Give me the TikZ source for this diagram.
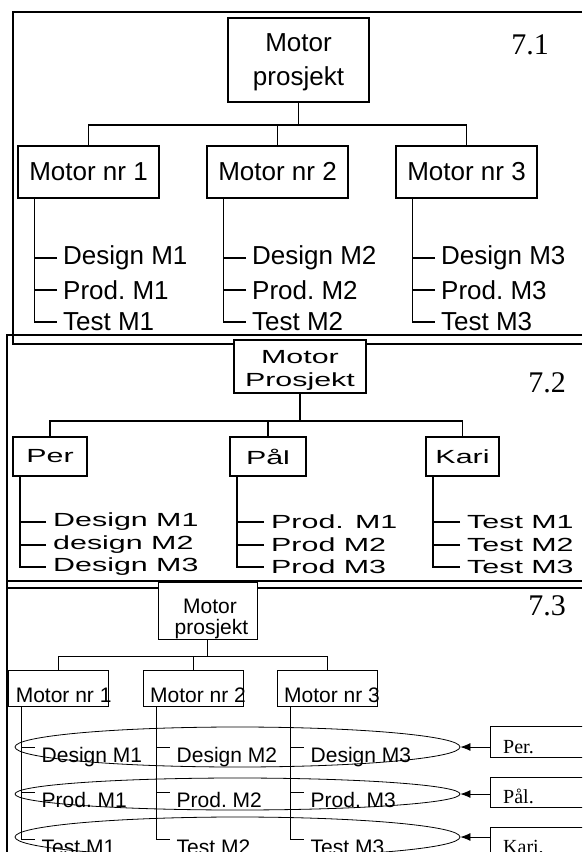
\documentclass[tikz,border=0pt]{standalone}
\usepackage{fontspec}
\setmainfont{Liberation Serif}
\newfontfamily\arial{Liberation Sans}
\usetikzlibrary{arrows.meta,calc,shapes.geometric,positioning}
\newcommand{\widetxt}[1]{\scalebox{1.6}[1]{#1}}
\tikzset{
  frame/.style={line width=2.8pt},
  numlbl/.style={font=\fontsize{30}{30}\selectfont, inner sep=0pt},
  boxA/.style={draw, line width=1.5pt, fill=white, minimum width=141pt, minimum height=52pt,
    inner sep=0pt, font=\arial\fontsize{26}{34}\selectfont},
  itemA/.style={anchor=west, inner xsep=6pt, inner ysep=0pt, font=\arial\fontsize{26}{26}\selectfont},
  boxB/.style={draw, line width=1.5pt, fill=white, minimum height=39pt, inner sep=0pt,
    font=\arial\fontsize{19}{23}\selectfont},
  itemB/.style={anchor=west, inner xsep=7pt, inner ysep=0pt, font=\arial\fontsize{19}{19}\selectfont},
  boxC/.style={draw, line width=0.8pt, fill=white, minimum width=100pt, minimum height=36pt, inner sep=0pt},
  txtC/.style={anchor=base west, inner sep=0pt, font=\arial\fontsize{21}{25}\selectfont},
  ring/.style={draw, ellipse, line width=0.8pt, minimum width=445pt, inner sep=0pt},
  labC/.style={draw, line width=0.8pt, anchor=north west, minimum width=120pt, inner sep=0pt},
  who/.style={anchor=base west, inner sep=0pt, font=\fontsize{20}{20}\selectfont},
  tip/.style={-{Latex[length=10pt,width=8pt]}, line width=0.8pt},
}
\begin{document}
\begin{tikzpicture}[x=1pt,y=-1pt]
  \useasboundingbox (0,0) rectangle (582,852);
  \clip (0,0) rectangle (582,852);
  % ---------------- 7.1 : per motor ----------------
  \draw[frame] (582,12) -- (13,12) -- (13,344) -- (582,344);
  \node[numlbl] (n71) at (530,45) {7.1};
  \node[boxA, minimum height=84pt] (topA) at (298.5,60) {};
  \node[inner sep=0pt, align=center, font=\arial\fontsize{26}{34}\selectfont] (topAt) at (298.5,62) {Motor\\prosjekt};
  \foreach \n/\bx in {1/88.5,2/277.5,3/466.5} {
    \node[boxA] (mA\n) at (\bx,172) {Motor nr \n};
    \draw[line width=1.5pt] (topA.south) -- ++(0,22) -| (mA\n.north);
    \foreach \task/\yy [count=\k] in {Design/258,Prod./290,Test/322}
      \node[itemA] (mA\n-\k) at (\bx-31.5,\yy) {\task\ M\n};
    \draw[line width=1.5pt] ($(mA\n.south west)+(17,0)$) |- (mA\n-3.west);
    \draw[line width=1.5pt] (mA\n-1.west) -- ++(-22,0);
    \draw[line width=1.5pt] (mA\n-2.west) -- ++(-22,0);
  }
  % ---------------- 7.2 : per person ----------------
  \draw[frame] (582,335) -- (7,335) -- (7,852);
  \draw[frame] (7,581) -- (582,581);
  \node[numlbl] (n72) at (547,383) {7.2};
  \node[boxB, minimum width=132pt, minimum height=53pt] (topB) at (300,366.5) {};
  \node[inner sep=0pt, align=center, font=\arial\fontsize{19}{23}\selectfont] (topBt) at (300,370)
    {\widetxt{Motor}\\\widetxt{Prosjekt}};
  \foreach \nm/\bx/\bw [count=\n] in {Per/50/74,Pål/268/76,Kari/462.5/73} {
    \node[boxB, minimum width=\bw] (pB\n) at (\bx,456.5) {\widetxt{\nm}};
    \draw[line width=1.5pt] (topB.south) -- ++(0,27) -| (pB\n.north);
  }
  \foreach \task/\yy [count=\k] in {Design M1/522,design M2/545,Design M3/567}
    \node[itemB] (pB1-\k) at (46,\yy) {\widetxt{\task}};
  \foreach \task/\yy [count=\k] in {Prod. M1/522,Prod M2/545,Prod M3/567}
    \node[itemB] (pB2-\k) at (264,\yy) {\widetxt{\task}};
  \foreach \task/\yy [count=\k] in {Test M1/522,Test M2/545,Test M3/567}
    \node[itemB] (pB3-\k) at (460,\yy) {\widetxt{\task}};
  \foreach \n in {1,2,3} {
    \draw[line width=1.5pt] ($(pB\n.south west)+(7.5,0)$) |- (pB\n-3.west);
    \draw[line width=1.5pt] (pB\n-1.west) -- ++(-26,0);
    \draw[line width=1.5pt] (pB\n-2.west) -- ++(-26,0);
  }
  % ---------------- 7.3 : matrix ----------------
  \draw[frame] (7,588) -- (582,588);
  \node[numlbl] (n73) at (547,606) {7.3};
  \node[boxC, minimum width=99pt, minimum height=57pt] (topC) at (207.5,610.5) {};
  \node[txtC, anchor=base] (topC1) at (210,613) {Motor};
  \node[txtC, anchor=base] (topC2) at (211.5,634.5) {prosjekt};
  \foreach \bx/\tx [count=\n] in {58/15.6,193/150,327/284} {
    \node[boxC] (mC\n) at (\bx,688) {};
    \node[txtC] (mC\n t) at (\tx,702) {Motor nr \n};
    \draw[line width=0.8pt] (topC.south) -- ++(0,17) -| (mC\n.north);
    \foreach \task/\yy [count=\k] in {Design/762.5,Prod./807.5,Test/854}
      \node[txtC] (mC\n-\k) at (\bx-16.5,\yy) {\task\ M\n};
    \draw[line width=0.8pt] ($(mC\n.south)+(-37,0)$) |- ($(mC\n-3.north west)+(-7,0)$);
    \draw[line width=0.8pt] ($(mC\n-1.north west)+(-7,0)$) -- ++(-13.5,0);
    \draw[line width=0.8pt] ($(mC\n-2.north west)+(-7,0)$) -- ++(-13.5,0);
  }
  \node[ring, minimum height=40pt] (e1) at (237.5,747) {};
  \node[ring, minimum height=32pt] (e2) at (237.5,794) {};
  \node[ring, minimum height=40pt] (e3) at (237.5,837) {};
  \node[labC, minimum height=31pt] (per) at (490,726) {};
  \node[who] (perT) at (503,753.6) {Per.};
  \node[labC, minimum height=30pt] (paal) at (490,777) {};
  \node[who] (paalT) at (503,803) {Pål.};
  \node[labC, minimum height=40pt] (kari) at (490,827) {};
  \node[who] (kariT) at (503,853) {Kari.};
  \draw[tip] (per.west |- e1.east) -- (e1.east);
  \draw[tip] (paal.west |- e2.east) -- (e2.east);
  \draw[tip] (kari.west |- e3.east) -- (e3.east);
\end{tikzpicture}
\end{document}
